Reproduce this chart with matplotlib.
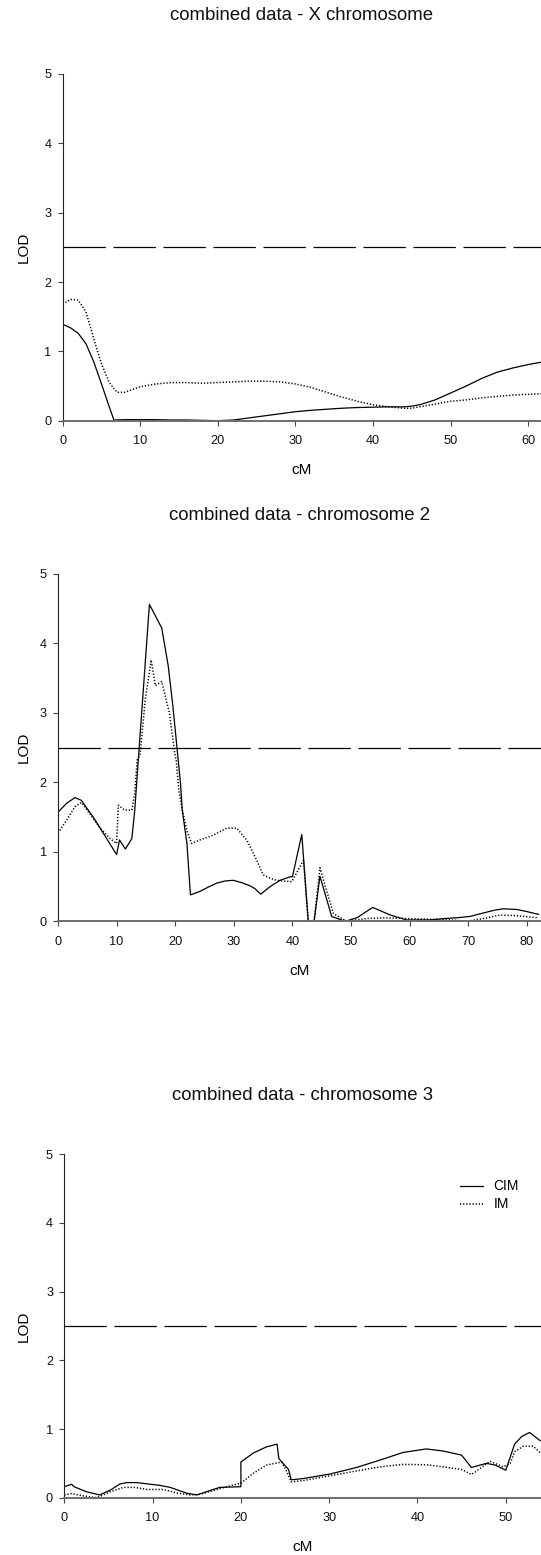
import matplotlib
matplotlib.use("Agg")
import matplotlib.pyplot as plt

plt.rcParams["font.family"] = ["Liberation Sans", "DejaVu Sans"]
plt.rcParams["lines.scale_dashes"] = False

# ---- LOD profiles (cM, LOD) ----
# X chromosome
x_cim_X = [0, 1, 2, 3, 4, 5, 6, 6.6, 8, 10, 12, 14, 16, 18, 20, 22, 24, 26, 28,
           30, 32, 34, 36, 38, 40, 42, 44, 45, 46, 48, 50, 52, 54, 56, 58, 60, 62]
lod_cim_X = [1.39, 1.34, 1.26, 1.11, 0.85, 0.53, 0.20, 0.01, 0.015, 0.015, 0.015,
             0.01, 0.01, 0.005, 0.0, 0.01, 0.04, 0.07, 0.10, 0.13, 0.15, 0.165,
             0.18, 0.19, 0.195, 0.20, 0.20, 0.21, 0.23, 0.30, 0.40, 0.50, 0.61,
             0.70, 0.76, 0.81, 0.85]
x_im_X = [0, 1, 2, 3, 4, 5, 6, 7, 8, 9, 10, 12, 14, 16, 18, 20, 22, 24, 26, 28,
          30, 32, 34, 36, 38, 40, 42, 44, 45, 46, 48, 50, 52, 54, 56, 58, 60, 62]
lod_im_X = [1.68, 1.75, 1.74, 1.57, 1.18, 0.82, 0.55, 0.41, 0.41, 0.45, 0.49,
            0.53, 0.55, 0.55, 0.54, 0.55, 0.56, 0.57, 0.57, 0.56, 0.53, 0.48,
            0.41, 0.34, 0.28, 0.23, 0.20, 0.18, 0.18, 0.20, 0.24, 0.28, 0.30,
            0.33, 0.35, 0.37, 0.38, 0.39]

# chromosome 2
x_cim_2 = [0, 1.5, 2.9, 4.0, 4.9, 6.0, 7.2, 8.6, 10.0, 10.5, 11.5, 12.6, 13.1,
           13.7, 15.6, 17.7, 18.8, 19.6, 20.3, 20.9, 21.2, 22.0, 22.6, 24.2,
           25.6, 27.1, 28.5, 29.9, 31.2, 32.8, 33.6, 34.6, 36.2, 37.9, 39.6,
           40.0, 41.6, 42.7, 43.7, 44.7, 46.7, 49.0, 51.0, 53.7, 56.7, 59.5,
           63.5, 66.0, 68.0, 70.3, 72.6, 74.5, 76.0, 78.3, 80.0, 82.0]
lod_cim_2 = [1.57, 1.70, 1.78, 1.74, 1.63, 1.50, 1.34, 1.15, 0.96, 1.17, 1.04,
             1.19, 1.60, 2.32, 4.56, 4.22, 3.68, 3.10, 2.50, 1.99, 1.60, 1.12,
             0.38, 0.43, 0.49, 0.55, 0.58, 0.59, 0.56, 0.51, 0.47, 0.39, 0.50,
             0.59, 0.64, 0.64, 1.25, 0.0, 0.0, 0.65, 0.07, 0.0, 0.05, 0.20,
             0.09, 0.02, 0.02, 0.04, 0.05, 0.07, 0.12, 0.16, 0.18, 0.17, 0.14,
             0.10]
x_im_2 = [0, 1.5, 2.9, 4.0, 5.4, 7.2, 8.9, 10.0, 10.3, 11.4, 12.6, 13.1, 13.5,
          14.0, 14.9, 15.9, 16.6, 17.7, 19.0, 19.9, 20.2, 20.6, 21.1, 22.0,
          22.8, 24.2, 26.5, 28.8, 30.5, 32.2, 33.9, 35.0, 36.2, 37.3, 38.4,
          39.9, 41.9, 42.7, 43.7, 44.7, 47.0, 49.3, 52.7, 55.5, 59.5, 63.5,
          66.9, 69.8, 72.6, 75.4, 78.3, 82.0]
lod_im_2 = [1.27, 1.46, 1.65, 1.71, 1.55, 1.34, 1.19, 1.12, 1.67, 1.60, 1.60,
            1.84, 2.32, 2.40, 3.20, 3.76, 3.39, 3.45, 3.00, 2.43, 2.30, 1.90,
            1.65, 1.30, 1.12, 1.17, 1.24, 1.34, 1.34, 1.17, 0.88, 0.67, 0.62,
            0.59, 0.58, 0.57, 0.88, 0.0, 0.0, 0.77, 0.11, 0.0, 0.04, 0.05,
            0.04, 0.03, 0.02, 0.0, 0.04, 0.09, 0.08, 0.05]

# chromosome 3
x_cim_3 = [0, 0.84, 1.1, 2.5, 4.0, 5.2, 6.3, 7.1, 8.2, 10.8, 12.0, 13.9, 15.0,
           16.1, 17.6, 20.0, 20.0, 21.4, 22.9, 24.1, 24.3, 25.4, 25.7, 27.1,
           30.1, 33.1, 35.8, 38.4, 41.0, 42.9, 45.0, 46.1, 47.8, 48.8, 50.0,
           51.0, 51.8, 52.7, 53.9]
lod_cim_3 = [0.16, 0.195, 0.16, 0.087, 0.04, 0.11, 0.20, 0.22, 0.22, 0.18, 0.15,
             0.064, 0.04, 0.087, 0.15, 0.16, 0.52, 0.65, 0.74, 0.78, 0.57, 0.41,
             0.26, 0.28, 0.345, 0.44, 0.55, 0.66, 0.71, 0.68, 0.62, 0.44, 0.50,
             0.475, 0.40, 0.78, 0.89, 0.95, 0.83]
x_im_3 = [0, 0.84, 2.2, 3.7, 5.2, 6.7, 8.0, 9.3, 11.2, 12.7, 14.2, 15.4, 17.3,
          19.1, 20.0, 21.4, 22.9, 24.6, 25.2, 25.7, 27.1, 30.1, 33.1, 35.8,
          38.4, 41.0, 42.9, 45.0, 46.1, 46.5, 48.2, 49.7, 50.5, 51.0, 52.0,
          53.1, 53.9]
lod_im_3 = [0.04, 0.06, 0.025, 0.0, 0.087, 0.15, 0.15, 0.12, 0.12, 0.07, 0.04,
            0.05, 0.12, 0.185, 0.21, 0.355, 0.475, 0.52, 0.38, 0.23, 0.25,
            0.32, 0.39, 0.45, 0.485, 0.48, 0.45, 0.41, 0.34, 0.37, 0.53, 0.45,
            0.50, 0.67, 0.75, 0.75, 0.655]

threshold = 2.5
titles = ["combined data - X chromosome",
          "combined data - chromosome 2",
          "combined data - chromosome 3"]
series_labels = ["CIM", "IM"]
y_ticks = [0, 1, 2, 3, 4, 5]

# ---- figure layout (pixels) ----
W, H = 541, 1555
fig = plt.figure(figsize=(W / 100, H / 100), dpi=100)

panels = [
    # left, top(y=5), bottom(y=0), xmax, title_y, data
    dict(left=62.7, top=74.0, bottom=420.7, xmax=61.64, title_y=15.5,
         cim=(x_cim_X, lod_cim_X), im=(x_im_X, lod_im_X), ticks=range(0, 61, 10)),
    dict(left=58.0, top=573.8, bottom=921.3, xmax=82.42, title_y=516.0,
         cim=(x_cim_2, lod_cim_2), im=(x_im_2, lod_im_2), ticks=range(0, 81, 10)),
    dict(left=64.3, top=1154.3, bottom=1497.7, xmax=53.99, title_y=1095.0,
         cim=(x_cim_3, lod_cim_3), im=(x_im_3, lod_im_3), ticks=range(0, 51, 10)),
]

for i, p in enumerate(panels):
    L, T, B = p["left"], p["top"], p["bottom"]
    ax = fig.add_axes([L / W, 1 - B / H, (W - L) / W, (B - T) / H])
    ax.set_xlim(0, p["xmax"])
    ax.set_ylim(0, 5)

    l_cim, = ax.plot(*p["cim"], color="black", lw=0.9, label=series_labels[0])
    l_im, = ax.plot(*p["im"], color="black", lw=1.1, label=series_labels[1])
    l_im.set_dashes((0.9, 1.35))
    thr = ax.axhline(threshold, color="black", lw=0.9)
    thr.set_dashes((30.5, 5.5))

    for s in ("top", "right"):
        ax.spines[s].set_visible(False)
    ax.spines["left"].set_color("#222222")
    ax.spines["left"].set_linewidth(0.8)
    ax.spines["bottom"].set_color("#6e6e6e")
    ax.spines["bottom"].set_linewidth(1.4)

    ax.set_xticks(list(p["ticks"]))
    ax.set_yticks(y_ticks)
    ax.tick_params(axis="both", direction="out", length=3.6, width=0.8,
                   color="#444444", labelsize=9.2, labelcolor="#111111")
    ax.tick_params(axis="x", pad=7.0)
    ax.tick_params(axis="y", pad=4.5)

    ax.set_xlabel("cM", fontsize=11)
    ax.xaxis.set_label_coords(0.5, -49.5 / (B - T))
    ax.xaxis.label.set_va("center")
    ax.set_ylabel("LOD", fontsize=11)
    ax.yaxis.set_label_coords((24.0 - L) / (W - L), 0.5)
    ax.yaxis.label.set_va("center")

    fig.text((L + W) / 2 / W, 1 - p["title_y"] / H, titles[i], fontsize=13.4,
             ha="center", va="center", color="#111111")

    if i == 2:
        ax.legend(handles=[l_cim, l_im], labels=series_labels, frameon=False,
                  loc="upper left", bbox_to_anchor=(460 / W, 1 - 1179.5 / H),
                  bbox_transform=fig.transFigure, borderaxespad=0, borderpad=0,
                  fontsize=10, handlelength=1.68, handletextpad=0.72,
                  labelspacing=0.28)

fig.savefig("out.png", dpi=100)
